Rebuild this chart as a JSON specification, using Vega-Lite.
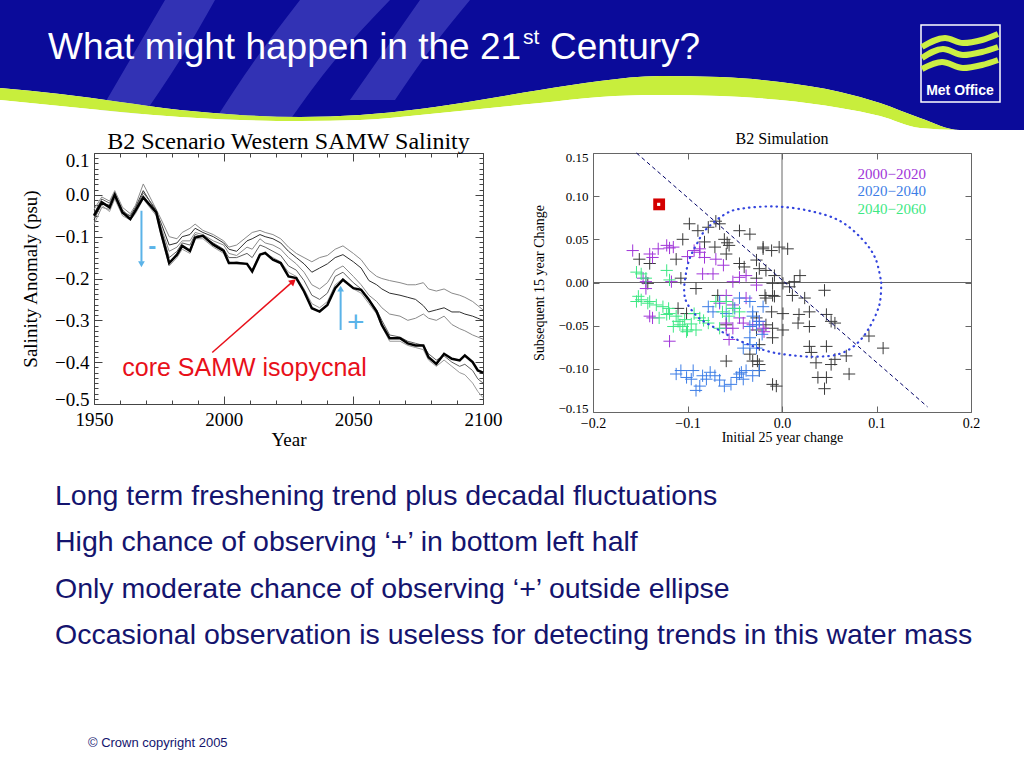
{
"$schema": "https://vega.github.io/schema/vega-lite/v6.json",
"padding": 0,
"background": "white",
"spacing": 0,
"config": {
  "view": {"stroke": null},
  "axis": {"grid": false, "labelFont": "Liberation Serif", "titleFont": "Liberation Serif", "labelColor": "#000", "titleColor": "#000", "titleFontWeight": "normal", "domainColor": "#444", "tickColor": "#444", "labelOverlap": false, "labelFlush": false},
  "title": {"font": "Liberation Serif", "fontWeight": "normal", "color": "#000"}
},
"datasets": {
  "wave": [
    {"u":0,"b":88,"g":100},{"u":60,"b":94,"g":106},{"u":120,"b":102,"g":112},{"u":180,"b":110,"g":117},
    {"u":240,"b":115,"g":120},{"u":300,"b":117,"g":121},{"u":360,"b":115,"g":120},{"u":420,"b":109,"g":115},
    {"u":480,"b":100,"g":109},{"u":540,"b":90,"g":103},{"u":600,"b":81,"g":97},{"u":660,"b":76,"g":95},
    {"u":720,"b":77,"g":96},{"u":780,"b":82,"g":100},{"u":840,"b":92,"g":108},{"u":880,"b":103,"g":116},
    {"u":920,"b":118,"g":128},{"u":960,"b":130,"g":130},{"u":1024,"b":130,"g":130}
  ],
  "stripes": [
    {"s":"A","h":0,"l":165,"r":215},{"s":"A","h":60,"l":130,"r":180},{"s":"A","h":120,"l":95,"r":140},
    {"s":"B","h":0,"l":300,"r":390},{"s":"B","h":60,"l":255,"r":335},{"s":"B","h":120,"l":215,"r":290},
    {"s":"C","h":0,"l":420,"r":470},{"s":"C","h":50,"l":385,"r":430},{"s":"C","h":100,"l":350,"r":395}
  ],
  "logo": [
    {"w":1,"u":922,"h":47},{"w":1,"u":945,"h":38},{"w":1,"u":963,"h":43},{"w":1,"u":982,"h":40},{"w":1,"u":998,"h":34},
    {"w":2,"u":922,"h":58},{"w":2,"u":943,"h":49},{"w":2,"u":963,"h":55},{"w":2,"u":982,"h":52},{"w":2,"u":998,"h":47},
    {"w":3,"u":922,"h":69},{"w":3,"u":942,"h":62},{"w":3,"u":963,"h":68},{"w":3,"u":982,"h":65},{"w":3,"u":998,"h":60}
  ],
  "sal": [
    {"yr":1950,"k":-0.050,"a":-0.035,"b":-0.060,"c":-0.070,"d":-0.045,"e":-0.055},
    {"yr":1953,"k":-0.018,"a":-0.005,"b":-0.020,"c":-0.030,"d":-0.010,"e":-0.025},
    {"yr":1956,"k":-0.030,"a":-0.015,"b":-0.025,"c":-0.035,"d":-0.020,"e":-0.040},
    {"yr":1958,"k":0.000,"a":0.010,"b":-0.005,"c":0.000,"d":0.005,"e":-0.010},
    {"yr":1961,"k":-0.042,"a":-0.030,"b":-0.045,"c":-0.035,"d":-0.040,"e":-0.050},
    {"yr":1964,"k":-0.058,"a":-0.045,"b":-0.050,"c":-0.055,"d":-0.050,"e":-0.060},
    {"yr":1966,"k":-0.038,"a":-0.025,"b":-0.030,"c":-0.040,"d":-0.035,"e":-0.045},
    {"yr":1969,"k":-0.006,"a":0.026,"b":0.010,"c":-0.002,"d":0.005,"e":-0.010},
    {"yr":1974,"k":-0.042,"a":-0.035,"b":-0.040,"c":-0.045,"d":-0.035,"e":-0.050},
    {"yr":1976,"k":-0.094,"a":-0.060,"b":-0.070,"c":-0.080,"d":-0.085,"e":-0.100},
    {"yr":1979,"k":-0.163,"a":-0.100,"b":-0.120,"c":-0.135,"d":-0.150,"e":-0.170},
    {"yr":1982,"k":-0.143,"a":-0.105,"b":-0.115,"c":-0.125,"d":-0.135,"e":-0.150},
    {"yr":1984,"k":-0.122,"a":-0.090,"b":-0.100,"c":-0.110,"d":-0.115,"e":-0.130},
    {"yr":1987,"k":-0.134,"a":-0.080,"b":-0.095,"c":-0.110,"d":-0.120,"e":-0.140},
    {"yr":1989,"k":-0.102,"a":-0.070,"b":-0.080,"c":-0.090,"d":-0.095,"e":-0.105},
    {"yr":1992,"k":-0.098,"a":-0.085,"b":-0.090,"c":-0.095,"d":-0.100,"e":-0.105},
    {"yr":1996,"k":-0.119,"a":-0.095,"b":-0.100,"c":-0.110,"d":-0.115,"e":-0.125},
    {"yr":2000,"k":-0.134,"a":-0.110,"b":-0.115,"c":-0.120,"d":-0.130,"e":-0.140},
    {"yr":2002,"k":-0.163,"a":-0.125,"b":-0.130,"c":-0.140,"d":-0.150,"e":-0.165},
    {"yr":2005,"k":-0.163,"a":-0.120,"b":-0.135,"c":-0.145,"d":-0.150,"e":-0.160},
    {"yr":2009,"k":-0.165,"a":-0.100,"b":-0.110,"c":-0.125,"d":-0.140,"e":-0.165},
    {"yr":2011,"k":-0.183,"a":-0.090,"b":-0.105,"c":-0.130,"d":-0.150,"e":-0.180},
    {"yr":2014,"k":-0.143,"a":-0.085,"b":-0.095,"c":-0.105,"d":-0.120,"e":-0.140},
    {"yr":2016,"k":-0.139,"a":-0.090,"b":-0.100,"c":-0.115,"d":-0.125,"e":-0.140},
    {"yr":2019,"k":-0.155,"a":-0.095,"b":-0.105,"c":-0.120,"d":-0.135,"e":-0.150},
    {"yr":2022,"k":-0.163,"a":-0.105,"b":-0.115,"c":-0.130,"d":-0.145,"e":-0.160},
    {"yr":2025,"k":-0.195,"a":-0.125,"b":-0.135,"c":-0.150,"d":-0.170,"e":-0.185},
    {"yr":2028,"k":-0.199,"a":-0.140,"b":-0.150,"c":-0.165,"d":-0.180,"e":-0.195},
    {"yr":2031,"k":-0.231,"a":-0.150,"b":-0.165,"c":-0.185,"d":-0.205,"e":-0.225},
    {"yr":2034,"k":-0.271,"a":-0.160,"b":-0.185,"c":-0.215,"d":-0.240,"e":-0.260},
    {"yr":2037,"k":-0.279,"a":-0.150,"b":-0.175,"c":-0.225,"d":-0.250,"e":-0.270},
    {"yr":2040,"k":-0.263,"a":-0.145,"b":-0.165,"c":-0.210,"d":-0.235,"e":-0.255},
    {"yr":2043,"k":-0.223,"a":-0.130,"b":-0.150,"c":-0.180,"d":-0.195,"e":-0.215},
    {"yr":2046,"k":-0.203,"a":-0.122,"b":-0.143,"c":-0.170,"d":-0.185,"e":-0.200},
    {"yr":2050,"k":-0.223,"a":-0.140,"b":-0.160,"c":-0.195,"d":-0.210,"e":-0.225},
    {"yr":2053,"k":-0.227,"a":-0.155,"b":-0.175,"c":-0.215,"d":-0.225,"e":-0.235},
    {"yr":2056,"k":-0.251,"a":-0.180,"b":-0.205,"c":-0.240,"d":-0.250,"e":-0.260},
    {"yr":2059,"k":-0.279,"a":-0.195,"b":-0.215,"c":-0.255,"d":-0.275,"e":-0.285},
    {"yr":2061,"k":-0.311,"a":-0.200,"b":-0.225,"c":-0.270,"d":-0.300,"e":-0.315},
    {"yr":2064,"k":-0.343,"a":-0.205,"b":-0.235,"c":-0.285,"d":-0.335,"e":-0.350},
    {"yr":2068,"k":-0.343,"a":-0.210,"b":-0.240,"c":-0.290,"d":-0.340,"e":-0.350},
    {"yr":2071,"k":-0.355,"a":-0.215,"b":-0.245,"c":-0.300,"d":-0.350,"e":-0.360},
    {"yr":2074,"k":-0.360,"a":-0.215,"b":-0.250,"c":-0.295,"d":-0.355,"e":-0.365},
    {"yr":2077,"k":-0.360,"a":-0.210,"b":-0.265,"c":-0.285,"d":-0.360,"e":-0.370},
    {"yr":2079,"k":-0.388,"a":-0.225,"b":-0.280,"c":-0.295,"d":-0.380,"e":-0.395},
    {"yr":2082,"k":-0.404,"a":-0.230,"b":-0.275,"c":-0.300,"d":-0.395,"e":-0.410},
    {"yr":2085,"k":-0.380,"a":-0.225,"b":-0.270,"c":-0.290,"d":-0.385,"e":-0.395},
    {"yr":2088,"k":-0.392,"a":-0.235,"b":-0.280,"c":-0.310,"d":-0.400,"e":-0.410},
    {"yr":2091,"k":-0.396,"a":-0.240,"b":-0.280,"c":-0.320,"d":-0.410,"e":-0.425},
    {"yr":2093,"k":-0.384,"a":-0.245,"b":-0.285,"c":-0.325,"d":-0.405,"e":-0.430},
    {"yr":2096,"k":-0.400,"a":-0.255,"b":-0.290,"c":-0.335,"d":-0.420,"e":-0.450},
    {"yr":2098,"k":-0.420,"a":-0.265,"b":-0.295,"c":-0.340,"d":-0.440,"e":-0.470},
    {"yr":2100,"k":-0.425,"a":-0.275,"b":-0.300,"c":-0.345,"d":-0.450,"e":-0.485}
  ],
  "arr": [
    {"yr":1968.3,"v0":-0.038,"v1":-0.160,"tip":-0.166,"dir":"down"},
    {"yr":2045.1,"v0":-0.323,"v1":-0.228,"tip":-0.224,"dir":"up"}
  ],
  "pts": [
    {"x":-0.151,"y":0.027,"g":"other"},{"x":-0.140,"y":0.022,"g":"other"},{"x":-0.142,"y":-0.001,"g":"other"},{"x":-0.107,"y":0.005,"g":"other"},
    {"x":-0.098,"y":0.068,"g":"other"},{"x":-0.089,"y":0.060,"g":"other"},{"x":-0.105,"y":0.050,"g":"other"},{"x":-0.082,"y":0.047,"g":"other"},
    {"x":-0.078,"y":0.064,"g":"other"},{"x":-0.070,"y":0.071,"g":"other"},{"x":-0.066,"y":0.068,"g":"other"},{"x":-0.071,"y":0.041,"g":"other"},
    {"x":-0.061,"y":0.050,"g":"other"},{"x":-0.058,"y":0.046,"g":"other"},{"x":-0.056,"y":0.043,"g":"other"},{"x":-0.045,"y":0.060,"g":"other"},
    {"x":-0.034,"y":0.056,"g":"other"},{"x":-0.059,"y":0.033,"g":"other"},{"x":-0.045,"y":0.022,"g":"other"},{"x":-0.040,"y":0.018,"g":"other"},
    {"x":-0.027,"y":0.026,"g":"other"},{"x":-0.020,"y":0.041,"g":"other"},{"x":-0.011,"y":0.037,"g":"other"},{"x":-0.024,"y":0.016,"g":"other"},
    {"x":-0.017,"y":0.014,"g":"other"},{"x":-0.008,"y":0.008,"g":"other"},{"x":-0.010,"y":-0.015,"g":"other"},{"x":-0.017,"y":-0.018,"g":"other"},
    {"x":-0.027,"y":-0.041,"g":"other"},{"x":-0.017,"y":-0.049,"g":"other"},{"x":-0.010,"y":-0.053,"g":"other"},{"x":-0.024,"y":-0.072,"g":"other"},
    {"x":-0.034,"y":-0.083,"g":"other"},{"x":-0.024,"y":-0.095,"g":"other"},{"x":-0.059,"y":-0.091,"g":"other"},{"x":-0.068,"y":-0.015,"g":"other"},
    {"x":-0.091,"y":-0.007,"g":"other"},{"x":-0.101,"y":-0.036,"g":"other"},{"x":-0.110,"y":-0.030,"g":"other"},{"x":-0.059,"y":-0.049,"g":"other"},
    {"x":-0.010,"y":-0.118,"g":"other"},{"x":-0.020,"y":0.039,"g":"other"},{"x":-0.003,"y":0.041,"g":"other"},{"x":0.006,"y":0.039,"g":"other"},
    {"x":-0.027,"y":0.005,"g":"other"},{"x":-0.010,"y":-0.001,"g":"other"},{"x":0.001,"y":-0.001,"g":"other"},{"x":0.008,"y":-0.005,"g":"other"},
    {"x":0.013,"y":0.001,"g":"other"},{"x":0.019,"y":0.008,"g":"other"},{"x":-0.018,"y":-0.015,"g":"other"},{"x":-0.008,"y":-0.016,"g":"other"},
    {"x":0.011,"y":-0.015,"g":"other"},{"x":0.024,"y":-0.018,"g":"other"},{"x":0.001,"y":-0.036,"g":"other"},{"x":-0.011,"y":-0.034,"g":"other"},
    {"x":0.018,"y":-0.037,"g":"other"},{"x":0.029,"y":-0.034,"g":"other"},{"x":0.017,"y":-0.047,"g":"other"},{"x":0.029,"y":-0.051,"g":"other"},
    {"x":0.045,"y":-0.009,"g":"other"},{"x":0.047,"y":-0.037,"g":"other"},{"x":0.056,"y":-0.047,"g":"other"},{"x":0.052,"y":-0.045,"g":"other"},
    {"x":0.001,"y":-0.055,"g":"other"},{"x":-0.010,"y":-0.064,"g":"other"},{"x":0.029,"y":-0.074,"g":"other"},{"x":0.031,"y":-0.081,"g":"other"},
    {"x":0.036,"y":-0.093,"g":"other"},{"x":0.047,"y":-0.074,"g":"other"},{"x":0.052,"y":-0.095,"g":"other"},{"x":0.056,"y":-0.089,"g":"other"},
    {"x":0.068,"y":-0.085,"g":"other"},{"x":0.038,"y":-0.110,"g":"other"},{"x":0.047,"y":-0.110,"g":"other"},{"x":0.045,"y":-0.123,"g":"other"},
    {"x":0.071,"y":-0.106,"g":"other"},{"x":-0.006,"y":-0.120,"g":"other"},{"x":0.092,"y":-0.062,"g":"other"},{"x":0.107,"y":-0.076,"g":"other"},
    {"x":-0.027,"y":-0.055,"g":"other"},{"x":-0.026,"y":-0.091,"g":"other"},{"x":-0.031,"y":-0.091,"g":"other"},{"x":-0.024,"y":-0.102,"g":"other"},
    {"x":-0.112,"y":0.027,"g":"other"},
    {"x":-0.158,"y":0.037,"g":"2000-2020"},{"x":-0.140,"y":0.033,"g":"2000-2020"},{"x":-0.137,"y":0.029,"g":"2000-2020"},{"x":-0.131,"y":0.039,"g":"2000-2020"},
    {"x":-0.122,"y":0.043,"g":"2000-2020"},{"x":-0.115,"y":0.041,"g":"2000-2020"},{"x":-0.119,"y":0.040,"g":"2000-2020"},{"x":-0.147,"y":0.005,"g":"2000-2020"},
    {"x":-0.144,"y":-0.007,"g":"2000-2020"},{"x":-0.144,"y":0.001,"g":"2000-2020"},{"x":-0.117,"y":0.001,"g":"2000-2020"},{"x":-0.137,"y":-0.041,"g":"2000-2020"},
    {"x":-0.140,"y":-0.039,"g":"2000-2020"},{"x":-0.119,"y":-0.068,"g":"2000-2020"},{"x":-0.093,"y":0.037,"g":"2000-2020"},{"x":-0.087,"y":0.039,"g":"2000-2020"},
    {"x":-0.087,"y":0.035,"g":"2000-2020"},{"x":-0.082,"y":0.029,"g":"2000-2020"},{"x":-0.070,"y":0.027,"g":"2000-2020"},{"x":-0.084,"y":0.010,"g":"2000-2020"},
    {"x":-0.073,"y":0.010,"g":"2000-2020"},{"x":-0.052,"y":0.001,"g":"2000-2020"},{"x":-0.045,"y":0.006,"g":"2000-2020"},{"x":-0.038,"y":0.008,"g":"2000-2020"},
    {"x":-0.027,"y":-0.003,"g":"2000-2020"},{"x":-0.059,"y":-0.015,"g":"2000-2020"},{"x":-0.052,"y":-0.026,"g":"2000-2020"},{"x":-0.038,"y":-0.018,"g":"2000-2020"},
    {"x":-0.066,"y":-0.024,"g":"2000-2020"},{"x":-0.045,"y":-0.041,"g":"2000-2020"},{"x":-0.059,"y":-0.047,"g":"2000-2020"},{"x":-0.052,"y":-0.053,"g":"2000-2020"},
    {"x":-0.041,"y":-0.047,"g":"2000-2020"},{"x":-0.031,"y":-0.049,"g":"2000-2020"},{"x":-0.020,"y":-0.053,"g":"2000-2020"},{"x":-0.024,"y":-0.045,"g":"2000-2020"},
    {"x":-0.019,"y":-0.057,"g":"2000-2020"},{"x":-0.059,"y":-0.053,"g":"2000-2020"},{"x":-0.056,"y":-0.066,"g":"2000-2020"},{"x":-0.100,"y":0.030,"g":"2000-2020"},
    {"x":-0.062,"y":0.020,"g":"2000-2020"},
    {"x":-0.107,"y":-0.102,"g":"2020-2040"},{"x":-0.101,"y":-0.110,"g":"2020-2040"},{"x":-0.094,"y":-0.102,"g":"2020-2040"},{"x":-0.087,"y":-0.120,"g":"2020-2040"},
    {"x":-0.080,"y":-0.112,"g":"2020-2040"},{"x":-0.071,"y":-0.108,"g":"2020-2040"},{"x":-0.061,"y":-0.120,"g":"2020-2040"},{"x":-0.054,"y":-0.118,"g":"2020-2040"},
    {"x":-0.048,"y":-0.110,"g":"2020-2040"},{"x":-0.043,"y":-0.104,"g":"2020-2040"},{"x":-0.038,"y":-0.102,"g":"2020-2040"},{"x":-0.031,"y":-0.108,"g":"2020-2040"},
    {"x":-0.096,"y":-0.112,"g":"2020-2040"},{"x":-0.091,"y":-0.125,"g":"2020-2040"},{"x":-0.041,"y":-0.112,"g":"2020-2040"},{"x":-0.112,"y":-0.106,"g":"2020-2040"},
    {"x":-0.076,"y":-0.104,"g":"2020-2040"},{"x":-0.066,"y":-0.113,"g":"2020-2040"},{"x":-0.045,"y":-0.106,"g":"2020-2040"},{"x":-0.084,"y":-0.108,"g":"2020-2040"},
    {"x":-0.027,"y":-0.049,"g":"2020-2040"},{"x":-0.027,"y":-0.076,"g":"2020-2040"},{"x":-0.024,"y":-0.102,"g":"2020-2040"},{"x":-0.066,"y":-0.022,"g":"2020-2040"},
    {"x":-0.059,"y":-0.036,"g":"2020-2040"},{"x":-0.045,"y":-0.018,"g":"2020-2040"},{"x":-0.034,"y":-0.022,"g":"2020-2040"},{"x":-0.031,"y":-0.034,"g":"2020-2040"},
    {"x":-0.024,"y":-0.045,"g":"2020-2040"},{"x":-0.034,"y":-0.051,"g":"2020-2040"},{"x":-0.041,"y":-0.076,"g":"2020-2040"},{"x":-0.034,"y":-0.072,"g":"2020-2040"},
    {"x":-0.078,"y":-0.028,"g":"2020-2040"},{"x":-0.073,"y":-0.034,"g":"2020-2040"},{"x":-0.031,"y":-0.039,"g":"2020-2040"},{"x":-0.034,"y":-0.064,"g":"2020-2040"},
    {"x":-0.021,"y":-0.060,"g":"2020-2040"},{"x":-0.050,"y":-0.030,"g":"2020-2040"},{"x":-0.020,"y":-0.028,"g":"2020-2040"},
    {"x":-0.149,"y":0.010,"g":"2040-2060"},{"x":-0.144,"y":0.005,"g":"2040-2060"},{"x":-0.122,"y":0.014,"g":"2040-2060"},{"x":-0.119,"y":0.003,"g":"2040-2060"},
    {"x":-0.152,"y":-0.016,"g":"2040-2060"},{"x":-0.149,"y":-0.020,"g":"2040-2060"},{"x":-0.142,"y":-0.024,"g":"2040-2060"},{"x":-0.133,"y":-0.026,"g":"2040-2060"},
    {"x":-0.126,"y":-0.028,"g":"2040-2060"},{"x":-0.119,"y":-0.036,"g":"2040-2060"},{"x":-0.112,"y":-0.039,"g":"2040-2060"},{"x":-0.108,"y":-0.049,"g":"2040-2060"},
    {"x":-0.103,"y":-0.043,"g":"2040-2060"},{"x":-0.101,"y":-0.057,"g":"2040-2060"},{"x":-0.115,"y":-0.051,"g":"2040-2060"},{"x":-0.130,"y":-0.041,"g":"2040-2060"},
    {"x":-0.093,"y":-0.036,"g":"2040-2060"},{"x":-0.087,"y":-0.041,"g":"2040-2060"},{"x":-0.078,"y":-0.047,"g":"2040-2060"},{"x":-0.066,"y":-0.053,"g":"2040-2060"},
    {"x":-0.059,"y":-0.022,"g":"2040-2060"},{"x":-0.052,"y":-0.030,"g":"2040-2060"},{"x":-0.045,"y":-0.034,"g":"2040-2060"},{"x":-0.154,"y":0.012,"g":"2040-2060"},
    {"x":-0.122,"y":-0.037,"g":"2040-2060"},{"x":-0.105,"y":-0.051,"g":"2040-2060"},{"x":-0.100,"y":-0.055,"g":"2040-2060"},{"x":-0.091,"y":-0.055,"g":"2040-2060"},
    {"x":-0.070,"y":-0.022,"g":"2040-2060"},{"x":-0.063,"y":-0.034,"g":"2040-2060"},{"x":-0.056,"y":-0.039,"g":"2040-2060"},{"x":-0.154,"y":-0.022,"g":"2040-2060"},
    {"x":-0.140,"y":-0.022,"g":"2040-2060"},{"x":-0.110,"y":-0.045,"g":"2040-2060"},{"x":-0.096,"y":-0.048,"g":"2040-2060"},{"x":-0.083,"y":-0.044,"g":"2040-2060"},
    {"x":-0.120,"y":-0.030,"g":"2040-2060"}
  ],
  "ell": [
    {"o":1,"x":0.105,"y":0.000},{"o":2,"x":0.103,"y":-0.026},{"o":3,"x":0.092,"y":-0.053},{"o":4,"x":0.078,"y":-0.072},
    {"o":5,"x":0.060,"y":-0.083},{"o":6,"x":0.035,"y":-0.086},{"o":7,"x":0.008,"y":-0.084},{"o":8,"x":-0.017,"y":-0.079},
    {"o":9,"x":-0.048,"y":-0.066},{"o":10,"x":-0.070,"y":-0.053},{"o":11,"x":-0.088,"y":-0.041},{"o":12,"x":-0.100,"y":-0.025},
    {"o":13,"x":-0.1035,"y":-0.011},{"o":14,"x":-0.102,"y":0.008},{"o":15,"x":-0.098,"y":0.027},{"o":16,"x":-0.090,"y":0.045},
    {"o":17,"x":-0.080,"y":0.062},{"o":18,"x":-0.059,"y":0.080},{"o":19,"x":-0.040,"y":0.086},{"o":20,"x":-0.006,"y":0.088},
    {"o":21,"x":0.029,"y":0.083},{"o":22,"x":0.061,"y":0.0715},{"o":23,"x":0.085,"y":0.050},{"o":24,"x":0.099,"y":0.0275},
    {"o":25,"x":0.105,"y":0.000}
  ],
  "diag": [{"x":-0.154,"y":0.150},{"x":0.154,"y":-0.144}],
  "leg": [
    {"x":0.080,"y":0.126,"t":"2000−2020","g":"2000-2020"},
    {"x":0.080,"y":0.106,"t":"2020−2040","g":"2020-2040"},
    {"x":0.080,"y":0.0856,"t":"2040−2060","g":"2040-2060"}
  ],
  "bul": [
    {"n":1,"t":"Long term freshening trend plus decadal fluctuations"},
    {"n":2,"t":"High chance of observing ‘+’ in bottom left half"},
    {"n":3,"t":"Only moderate chance of observing ‘+’ outside ellipse"},
    {"n":4,"t":"Occasional observation is useless for detecting trends in this water mass"}
  ]
},
"vconcat": [
  {
    "width": 1024, "height": 130,
    "layer": [
      {"data": {"name": "wave"}, "mark": {"type": "area", "color": "#0b0b9a", "interpolate": "monotone"},
       "encoding": {
         "x": {"field": "u", "type": "quantitative", "scale": {"domain": [0, 1024], "nice": false, "zero": false}, "axis": null},
         "y": {"field": "b", "type": "quantitative", "scale": {"domain": [0, 130], "nice": false, "zero": false, "reverse": true}, "axis": null},
         "y2": {"datum": 0}}},
      {"data": {"name": "stripes"}, "mark": {"type": "area", "orient": "horizontal", "color": "#7a7ae6", "opacity": 0.35, "interpolate": "monotone"},
       "encoding": {
         "y": {"field": "h", "type": "quantitative"},
         "x": {"field": "l", "type": "quantitative"},
         "x2": {"field": "r"},
         "detail": {"field": "s"}}},
      {"data": {"name": "wave"}, "mark": {"type": "area", "color": "#c8ee3c", "interpolate": "monotone"},
       "encoding": {"x": {"field": "u", "type": "quantitative"}, "y": {"field": "g", "type": "quantitative"}, "y2": {"field": "b"}}},
      {"data": {"name": "wave"}, "mark": {"type": "area", "color": "white", "interpolate": "monotone"},
       "encoding": {"x": {"field": "u", "type": "quantitative"}, "y": {"field": "g", "type": "quantitative"}, "y2": {"datum": 130}}},
      {"data": {"values": [{}]}, "mark": {"type": "rect", "fill": "#0b0b9a", "stroke": "white", "strokeWidth": 1.5},
       "encoding": {"x": {"datum": 921}, "x2": {"datum": 1000}, "y": {"datum": 25}, "y2": {"datum": 102}}},
      {"data": {"name": "logo"}, "mark": {"type": "line", "color": "#ccee44", "strokeWidth": 6, "interpolate": "monotone"},
       "encoding": {"x": {"field": "u", "type": "quantitative"}, "y": {"field": "h", "type": "quantitative"}, "detail": {"field": "w"}}},
      {"data": {"values": [{}]}, "mark": {"type": "text", "font": "Liberation Sans", "fontSize": 14, "fontWeight": "bold", "color": "white", "align": "center", "baseline": "middle"},
       "encoding": {"x": {"datum": 960}, "y": {"datum": 91}, "text": {"value": "Met Office"}}},
      {"data": {"values": [{}]}, "mark": {"type": "text", "font": "Liberation Sans", "fontSize": 37, "color": "white", "align": "left", "baseline": "alphabetic"},
       "encoding": {"x": {"datum": 48}, "y": {"datum": 59}, "text": {"value": "What might happen in the 21"}}},
      {"data": {"values": [{}]}, "mark": {"type": "text", "font": "Liberation Sans", "fontSize": 21, "color": "white", "align": "left", "baseline": "alphabetic"},
       "encoding": {"x": {"datum": 523}, "y": {"datum": 44}, "text": {"value": "st"}}},
      {"data": {"values": [{}]}, "mark": {"type": "text", "font": "Liberation Sans", "fontSize": 37, "color": "white", "align": "left", "baseline": "alphabetic"},
       "encoding": {"x": {"datum": 550}, "y": {"datum": 59}, "text": {"value": "Century?"}}}
    ]
  },
  {
    "spacing": 0,
    "hconcat": [
      {"width": 21, "height": 10, "data": {"values": []}, "mark": "point", "encoding": {}},
      {
        "spacing": 30,
        "hconcat": [
          {
            "width": 389, "height": 251,
            "title": {"text": "B2 Scenario Western SAMW Salinity", "fontSize": 24, "offset": -3, "frame": "group"},
            "resolve": {"axis": {"x": "independent", "y": "independent"}},
            "layer": [
              {"data": {"name": "sal"},
               "transform": [{"fold": ["a", "b", "c", "d", "e"], "as": ["series", "v"]}],
               "mark": {"type": "line", "strokeWidth": 1},
               "encoding": {
                 "x": {"field": "yr", "type": "quantitative", "scale": {"domain": [1950, 2100], "nice": false, "zero": false},
                       "axis": {"orient": "bottom", "values": [1950, 2000, 2050, 2100], "format": "d", "tickSize": -8, "labelPadding": 14, "labelFontSize": 19, "title": "Year", "titleFontSize": 19, "titlePadding": 1}},
                 "y": {"field": "v", "type": "quantitative", "scale": {"domain": [-0.5, 0.1], "nice": false, "zero": false},
                       "axis": {"orient": "left", "values": [-0.5, -0.4, -0.3, -0.2, -0.1, 0, 0.1], "format": ".1f", "tickSize": -8, "labelPadding": 13, "labelFontSize": 19, "title": "Salinity Anomaly (psu)", "titleFontSize": 19, "titlePadding": 14,
                                "labelOffset": {"condition": [{"test": "datum.value == 0.1", "value": 7}, {"test": "datum.value == -0.5", "value": -5}], "value": 0}}},
                 "stroke": {"field": "series", "type": "nominal", "scale": {"domain": ["a", "b", "c", "d", "e"], "range": ["#8a8a8a", "#303030", "#8a8a8a", "#606060", "#9a9a9a"]}, "legend": null}
               }},
              {"data": {"name": "sal"},
               "mark": {"type": "line", "strokeWidth": 2.5, "color": "#000"},
               "encoding": {
                 "x": {"field": "yr", "type": "quantitative", "axis": {"orient": "top", "values": [1950, 2000, 2050, 2100], "labels": false, "tickSize": -8, "title": null}},
                 "y": {"field": "k", "type": "quantitative", "axis": {"orient": "right", "values": [-0.5, -0.4, -0.3, -0.2, -0.1, 0, 0.1], "labels": false, "tickSize": -8, "title": null}}
               }},
              {"data": {"name": "arr"},
               "mark": {"type": "rule", "color": "#5bb3e8", "strokeWidth": 2},
               "encoding": {
                 "x": {"field": "yr", "type": "quantitative", "axis": {"orient": "bottom", "values": [1960, 1970, 1980, 1990, 2010, 2020, 2030, 2040, 2060, 2070, 2080, 2090], "labels": false, "domain": false, "tickSize": -4, "title": null}},
                 "y": {"field": "v0", "type": "quantitative", "axis": {"orient": "left", "values": [-0.4875, -0.475, -0.4625, -0.45, -0.4375, -0.425, -0.4125, -0.3875, -0.375, -0.3625, -0.35, -0.3375, -0.325, -0.3125, -0.2875, -0.275, -0.2625, -0.25, -0.2375, -0.225, -0.2125, -0.1875, -0.175, -0.1625, -0.15, -0.1375, -0.125, -0.1125, -0.0875, -0.075, -0.0625, -0.05, -0.0375, -0.025, -0.0125, 0.0125, 0.025, 0.0375, 0.05, 0.0625, 0.075, 0.0875], "labels": false, "domain": false, "tickSize": -4, "title": null}},
                 "y2": {"field": "v1"}
               }},
              {"data": {"name": "arr"},
               "mark": {"type": "point", "filled": true, "size": 45, "color": "#5bb3e8", "opacity": 1},
               "encoding": {
                 "x": {"field": "yr", "type": "quantitative", "axis": {"orient": "top", "values": [1960, 1970, 1980, 1990, 2010, 2020, 2030, 2040, 2060, 2070, 2080, 2090], "labels": false, "domain": false, "tickSize": -4, "title": null}},
                 "y": {"field": "tip", "type": "quantitative", "axis": {"orient": "right", "values": [-0.4875, -0.475, -0.4625, -0.45, -0.4375, -0.425, -0.4125, -0.3875, -0.375, -0.3625, -0.35, -0.3375, -0.325, -0.3125, -0.2875, -0.275, -0.2625, -0.25, -0.2375, -0.225, -0.2125, -0.1875, -0.175, -0.1625, -0.15, -0.1375, -0.125, -0.1125, -0.0875, -0.075, -0.0625, -0.05, -0.0375, -0.025, -0.0125, 0.0125, 0.025, 0.0375, 0.05, 0.0625, 0.075, 0.0875], "labels": false, "domain": false, "tickSize": -4, "title": null}},
                 "shape": {"field": "dir", "type": "nominal", "scale": {"domain": ["down", "up"], "range": ["triangle-down", "triangle-up"]}, "legend": null}
               }},
              {"data": {"values": [{}]},
               "mark": {"type": "rule", "color": "#e8101a", "strokeWidth": 1.5},
               "encoding": {"x": {"datum": 1995.6, "axis": null}, "y": {"datum": -0.377, "axis": null}, "x2": {"datum": 2026.5}, "y2": {"datum": -0.208}}},
              {"data": {"values": [{}]},
               "mark": {"type": "point", "shape": "triangle-up", "angle": 49, "filled": true, "size": 60, "color": "#e8101a", "opacity": 1},
               "encoding": {"x": {"datum": 2026.8, "axis": null}, "y": {"datum": -0.207, "axis": null}}},
              {"data": {"values": [{}]},
               "mark": {"type": "text", "font": "Liberation Sans", "fontSize": 25, "color": "#e8101a", "align": "left", "baseline": "middle"},
               "encoding": {"x": {"datum": 1960.9, "axis": null}, "y": {"datum": -0.413, "axis": null}, "text": {"value": "core SAMW isopycnal"}}},
              {"data": {"values": [{}]},
               "mark": {"type": "text", "font": "Liberation Sans", "fontSize": 24, "fontWeight": "bold", "color": "#5bb3e8", "align": "center", "baseline": "middle"},
               "encoding": {"x": {"datum": 1972.5, "axis": null}, "y": {"datum": -0.124, "axis": null}, "text": {"value": "-"}}},
              {"data": {"values": [{}]},
               "mark": {"type": "text", "font": "Liberation Sans", "fontSize": 30, "color": "#5bb3e8", "align": "center", "baseline": "middle"},
               "encoding": {"x": {"datum": 2050.9, "axis": null}, "y": {"datum": -0.307, "axis": null}, "text": {"value": "+"}}}
            ]
          },
          {
            "width": 378, "height": 259,
            "title": {"text": "B2 Simulation", "fontSize": 16, "offset": 4, "frame": "group"},
            "resolve": {"axis": {"x": "independent", "y": "independent"}},
            "layer": [
              {"data": {"values": [{}]}, "mark": {"type": "rule", "color": "#666", "strokeWidth": 1},
               "encoding": {"x": {"datum": 0, "axis": null}}},
              {"data": {"values": [{}]}, "mark": {"type": "rule", "color": "#666", "strokeWidth": 1},
               "encoding": {"y": {"datum": 0, "axis": null}}},
              {"data": {"name": "pts"},
               "mark": {"type": "point", "shape": "M-1,0H1M0,-1V1", "filled": false, "strokeWidth": 1, "size": 150, "opacity": 1},
               "encoding": {
                 "x": {"field": "x", "type": "quantitative", "scale": {"domain": [-0.2, 0.2], "nice": false, "zero": false},
                       "axis": {"orient": "bottom", "values": [-0.2, -0.1, 0, 0.1, 0.2], "format": ".1f", "tickSize": -6, "labelPadding": 10, "labelFontSize": 14, "title": "Initial 25 year change", "titleFontSize": 14, "titlePadding": 0, "domainColor": "#666", "tickColor": "#666"}},
                 "y": {"field": "y", "type": "quantitative", "scale": {"domain": [-0.15, 0.15], "nice": false, "zero": false},
                       "axis": {"orient": "left", "values": [-0.15, -0.1, -0.05, 0, 0.05, 0.1, 0.15], "format": ".2f", "tickSize": -6, "labelPadding": 11, "labelFontSize": 13, "title": "Subsequent 15 year Change", "titleFontSize": 14, "titlePadding": 11, "domainColor": "#666", "tickColor": "#666",
                                "labelOffset": {"condition": [{"test": "datum.value == 0.15", "value": 4}, {"test": "datum.value == -0.15", "value": -4}], "value": 0}}},
                 "color": {"field": "g", "type": "nominal", "scale": {"domain": ["other", "2000-2020", "2020-2040", "2040-2060"], "range": ["#3a3a3a", "#a035d8", "#3c7de6", "#3de883"]}, "legend": null}
               }},
              {"data": {"name": "diag"},
               "mark": {"type": "line", "color": "#000066", "strokeWidth": 1, "strokeDash": [4, 3]},
               "encoding": {
                 "x": {"field": "x", "type": "quantitative", "axis": {"orient": "top", "values": [-0.2, -0.1, 0, 0.1, 0.2], "labels": false, "tickSize": -6, "title": null, "domainColor": "#666", "tickColor": "#666"}},
                 "y": {"field": "y", "type": "quantitative", "axis": {"orient": "right", "values": [-0.15, -0.1, -0.05, 0, 0.05, 0.1, 0.15], "labels": false, "tickSize": -6, "title": null, "domainColor": "#666", "tickColor": "#666"}}
               }},
              {"data": {"name": "ell"},
               "mark": {"type": "line", "color": "#3344dd", "strokeWidth": 2.2, "strokeDash": [0.5, 5], "strokeCap": "round", "interpolate": "cardinal"},
               "encoding": {
                 "x": {"field": "x", "type": "quantitative", "axis": null},
                 "y": {"field": "y", "type": "quantitative", "axis": null},
                 "order": {"field": "o"}
               }},
              {"data": {"name": "leg"},
               "mark": {"type": "text", "font": "Liberation Serif", "fontSize": 15, "align": "left", "baseline": "middle"},
               "encoding": {
                 "x": {"field": "x", "type": "quantitative", "axis": null},
                 "y": {"field": "y", "type": "quantitative", "axis": null},
                 "text": {"field": "t"},
                 "color": {"field": "g", "type": "nominal", "legend": null}
               }},
              {"data": {"values": [{}]},
               "mark": {"type": "point", "shape": "square", "filled": true, "size": 140, "color": "#d40000", "opacity": 1},
               "encoding": {"x": {"datum": -0.13, "axis": null}, "y": {"datum": 0.0905, "axis": null}}},
              {"data": {"values": [{}]},
               "mark": {"type": "point", "shape": "square", "filled": true, "size": 10, "color": "white", "opacity": 1},
               "encoding": {"x": {"datum": -0.1305, "axis": null}, "y": {"datum": 0.0905, "axis": null}}}
            ]
          }
        ]
      }
    ]
  },
  {
    "spacing": 20,
    "hconcat": [
      {"width": 35, "height": 10, "data": {"values": []}, "mark": "point", "encoding": {}},
      {
        "width": 969, "height": 314,
        "layer": [
          {"data": {"name": "bul"},
           "mark": {"type": "text", "align": "left", "baseline": "middle", "fontSize": 28.5, "font": "Liberation Sans", "color": "#14146e"},
           "encoding": {
             "x": {"datum": 0, "type": "quantitative", "scale": {"domain": [0, 1], "nice": false, "zero": false}, "axis": null},
             "y": {"field": "n", "type": "quantitative", "scale": {"domain": [-0.017, 6.773], "nice": false, "zero": false, "reverse": true}, "axis": null},
             "text": {"field": "t"}
           }},
          {"data": {"values": [{}]},
           "mark": {"type": "text", "align": "left", "baseline": "middle", "fontSize": 13, "font": "Liberation Sans", "color": "#14146e"},
           "encoding": {"x": {"datum": 0.034}, "y": {"datum": 6.35}, "text": {"value": "© Crown copyright 2005"}}}
        ]
      }
    ]
  }
]
}
